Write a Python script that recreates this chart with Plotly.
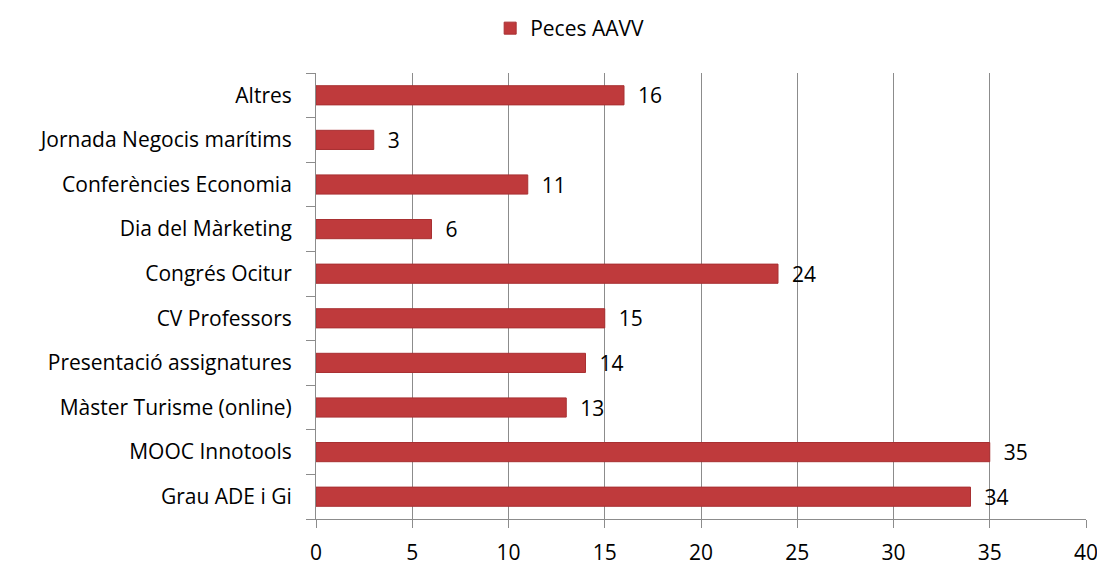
import plotly.graph_objects as go

categories = ["Grau ADE i Gi", "MOOC Innotools", "Màster Turisme (online)",
              "Presentació assignatures", "CV Professors", "Congrés Ocitur",
              "Dia del Màrketing", "Conferències Economia",
              "Jornada Negocis marítims", "Altres"]
values = [34, 35, 13, 14, 15, 24, 6, 11, 3, 16]
series_name = "Peces AAVV"
x_ticks = [0, 5, 10, 15, 20, 25, 30, 35, 40]

FONT = "'Open Sans', sans-serif"
FS = 21

W, H = 1097, 559

fig = go.Figure()
fig.add_trace(go.Bar(
    y=categories, x=values, orientation="h", name=series_name,
    marker=dict(color="#BF3A3C", line=dict(color="#A83032", width=1)),
    width=0.43,
    text=[f"  {v}" for v in values], textposition="outside",
    textfont=dict(size=FS, color="#000000", family=FONT),
    constraintext="none",
    cliponaxis=False,
))

fig.update_layout(
    width=W, height=H,
    margin=dict(l=308, r=19, t=65, b=48, autoexpand=False),
    plot_bgcolor="white", paper_bgcolor="white",
    font=dict(family=FONT, size=FS, color="#000000"),
    showlegend=True,
    legend=dict(orientation="h", xref="container", x=0.512, xanchor="center",
                yref="container", y=1.0, yanchor="top",
                font=dict(size=FS, family=FONT)),
)

fig.update_xaxes(range=[0, 40], tickvals=x_ticks, showgrid=True, gridcolor="#8C8C8C",
                 gridwidth=1, showline=True, linecolor="#8C8C8C", linewidth=1,
                 ticks="outside", ticklen=8, tickcolor="#8C8C8C",
                 tickfont=dict(size=FS, family=FONT), zeroline=False, automargin=False,
                 ticklabelstandoff=7)
fig.update_yaxes(type="category", categoryorder="array", categoryarray=categories,
                 showline=True, linecolor="#8C8C8C", linewidth=1,
                 ticks="outside", ticklen=9, tickcolor="#8C8C8C", tickson="boundaries",
                 tickfont=dict(size=FS, family=FONT), showgrid=False,
                 ticklabelstandoff=19, automargin=False)

fig.write_html("out.html")
